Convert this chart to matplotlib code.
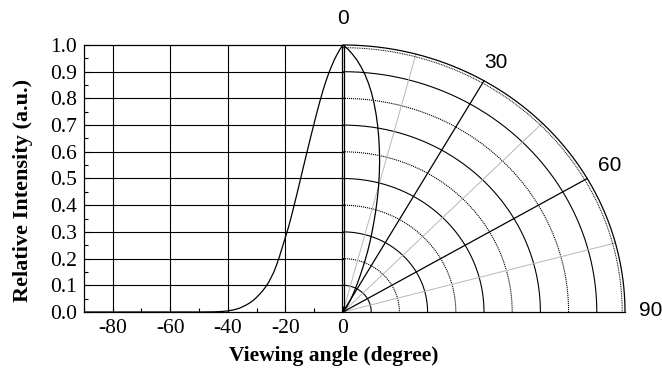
import numpy as np
import matplotlib
matplotlib.use("Agg")
import matplotlib.pyplot as plt

# ---- data ----
angles = [-90, -80, -70, -60, -50, -45, -42, -40, -38, -36, -34, -33, -32, -31,
          -30, -29, -28, -27, -26, -25, -24, -23, -22, -21, -20, -19, -18, -17,
          -16, -15, -14, -13, -12, -11, -10, -9, -8, -7, -6, -5, -4, -3, -2, -1, 0]
intensity = [0.0, 0.0, 0.0, 0.0, 0.0, 0.0005, 0.002, 0.004, 0.008, 0.014, 0.024,
             0.030, 0.037, 0.045, 0.055, 0.066, 0.078, 0.092, 0.108, 0.128, 0.150,
             0.178, 0.21, 0.245, 0.28, 0.315, 0.355, 0.398, 0.442, 0.487, 0.532,
             0.577, 0.621, 0.665, 0.708, 0.750, 0.790, 0.828, 0.862, 0.893, 0.920,
             0.945, 0.966, 0.985, 1.0]
x_ticks = [-80, -60, -40, -20, 0]
y_ticks = [0.0, 0.1, 0.2, 0.3, 0.4, 0.5, 0.6, 0.7, 0.8, 0.9, 1.0]
polar_labels = ["0", "30", "60", "90"]

W, H = 662, 369
fig = plt.figure(figsize=(W / 100, H / 100), dpi=100)

px_per_deg = 2.88
x0_px = 343.0          # pixel of angle 0
left_px = x0_px - 90 * px_per_deg
top_px, bot_px = 45.0, 312.0
R = 282.0 / px_per_deg  # horizontal radius of polar r=1 in x-units
xmax = 100.0
ax = fig.add_axes([left_px / W, (H - bot_px) / H,
                   (xmax + 90) * px_per_deg / W, (bot_px - top_px) / H])
ax.set_xlim(-90, xmax)
ax.set_ylim(0, 1)

serif = "Liberation Serif"
sans = "Liberation Sans"

# spines
ax.spines["right"].set_visible(False)
ax.spines["top"].set_bounds(-90, 0)
ax.spines["bottom"].set_bounds(-90, R)
for s in ["left", "top", "bottom"]:
    ax.spines[s].set_linewidth(0.9)

# left cartesian grid
for yv in y_ticks[1:-1]:
    ax.plot([-90, 0], [yv, yv], color="black", lw=0.8, zorder=1)
for xv in x_ticks[:-1]:
    ax.plot([xv, xv], [0, 1], color="black", lw=0.8, zorder=1)
ax.plot([-0.35, -0.35], [0, 1], color="black", lw=0.9, zorder=3)
ax.plot([0.35, 0.35], [0, 1], color="black", lw=0.9, zorder=3)

# ticks
ax.set_xticks(x_ticks)
ax.set_xticks([-90, -70, -50, -30, -10], minor=True)
ax.set_yticks(y_ticks)
ax.set_yticks(np.arange(0.05, 1.0, 0.1), minor=True)
ax.tick_params(which="both", direction="in", top=False, right=False)
ax.tick_params(which="major", length=4, width=0.8, labelsize=15.5, pad=5)
ax.tick_params(which="minor", length=3, width=0.8)
ax.set_xticklabels([str(v) for v in x_ticks], fontfamily=serif)
ax.set_yticklabels(["%.1f" % v for v in y_ticks], fontfamily=serif)

# polar grid (elliptical because of unequal px scale)
th = np.radians(np.linspace(0, 90, 300))
for i in range(1, 10):
    r = i / 10
    ls = "-" if i % 2 == 1 else (0, (1, 0.8))
    ax.plot(R * r * np.sin(th), r * np.cos(th), color="black", lw=0.8, ls=ls, zorder=1)
ax.plot(R * np.sin(th), np.cos(th), color="black", lw=0.9, zorder=2, clip_on=False)
ax.plot(R * 0.99 * np.sin(th), 0.99 * np.cos(th), color="black", lw=0.7,
        ls=(0, (1, 0.8)), zorder=2)
for a in [30, 60]:
    t = np.radians(a)
    ax.plot([0, R * np.sin(t)], [0, np.cos(t)], color="black", lw=0.9, zorder=2)
for a in [15, 45, 75]:
    t = np.radians(a)
    ax.plot([0, R * np.sin(t)], [0, np.cos(t)], color="#b8b8b8", lw=0.7, zorder=1)

# data curves
ang = np.array(angles, dtype=float)
inten = np.array(intensity, dtype=float)
ax.plot(ang, inten, color="black", lw=0.9, zorder=4)
tr = np.radians(-ang)
ax.plot(R * inten * np.sin(tr), inten * np.cos(tr), color="black", lw=0.9, zorder=4)

# polar angle labels
lab_pos = [(0.0, 1.10), (53.1, 0.936), (92.7, 0.547), (106.8, 0.004)]
for txt, (xx, yy) in zip(polar_labels, lab_pos):
    ax.text(xx, yy, txt, ha="center", va="center", fontsize=15,
            fontfamily=sans, clip_on=False)

# axis labels
fig.text(334 / W, 1 - 356 / H, "Viewing angle (degree)", ha="center", va="center",
         fontsize=15.5, fontweight="bold", fontfamily=serif)
fig.text(23 / W, 1 - 190 / H, "Relative Intensity (a.u.)", ha="center", va="center",
         rotation=90, fontsize=16, fontweight="bold", fontfamily=serif)

fig.savefig("out.png", dpi=100)
